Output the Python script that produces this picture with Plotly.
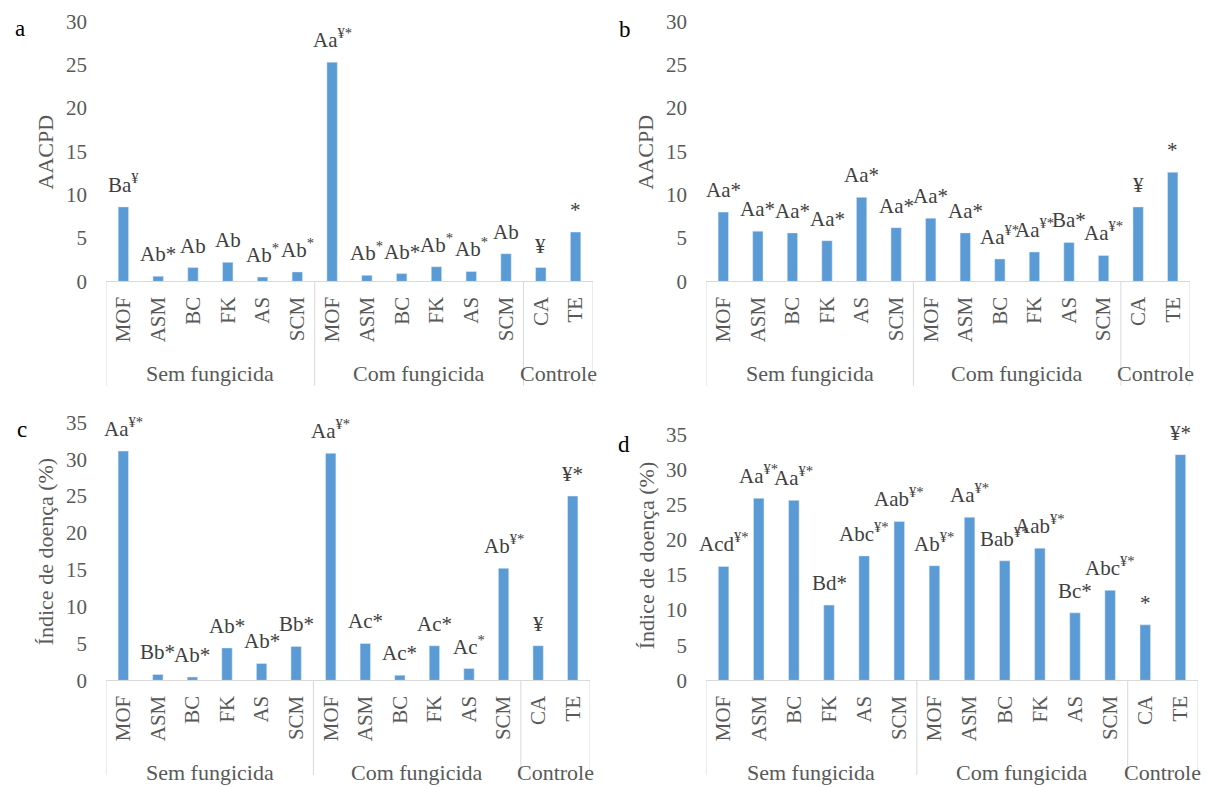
import plotly.graph_objects as go

# ---------------- data ----------------
categories = ["MOF", "ASM", "BC", "FK", "AS", "SCM",
              "MOF", "ASM", "BC", "FK", "AS", "SCM",
              "CA", "TE"]
groups = ["Sem fungicida", "Com fungicida", "Controle"]
group_sizes = [6, 6, 2]

values_a = [8.6, 0.6, 1.6, 2.2, 0.5, 1.1, 25.3, 0.7, 0.9, 1.7, 1.15, 3.2, 1.6, 5.7]
values_b = [8.0, 5.8, 5.6, 4.7, 9.7, 6.2, 7.3, 5.6, 2.6, 3.4, 4.5, 3.0, 8.6, 12.6]
values_c = [31.1, 0.8, 0.45, 4.4, 2.3, 4.6, 30.8, 5.0, 0.7, 4.7, 1.6, 15.2, 4.7, 25.0]
values_d = [16.2, 25.9, 25.6, 10.7, 17.7, 22.6, 16.3, 23.2, 17.0, 18.8, 9.6, 12.8, 7.9, 32.1]

labels_a = ["Ba<sup>¥</sup>", "Ab*", "Ab", "Ab", "Ab<sup>*</sup>", "Ab<sup>*</sup>",
            "Aa<sup>¥*</sup>", "Ab<sup>*</sup>", "Ab*", "Ab<sup>*</sup>", "Ab<sup>*</sup>", "Ab",
            "¥", "*"]
labels_b = ["Aa*", "Aa*", "Aa*", "Aa*", "Aa*", "Aa*",
            "Aa*", "Aa*", "Aa<sup>¥*</sup>", "Aa<sup>¥*</sup>", "Ba*", "Aa<sup>¥*</sup>",
            "¥", "*"]
labels_c = ["Aa<sup>¥*</sup>", "Bb*", "Ab*", "Ab*", "Ab*", "Bb*",
            "Aa<sup>¥*</sup>", "Ac*", "Ac*", "Ac*", "Ac<sup>*</sup>", "Ab<sup>¥*</sup>",
            "¥", "¥*"]
labels_d = ["Acd<sup>¥*</sup>", "Aa<sup>¥*</sup>", "Aa<sup>¥*</sup>", "Bd*", "Abc<sup>¥*</sup>", "Aab<sup>¥*</sup>",
            "Ab<sup>¥*</sup>", "Aa<sup>¥*</sup>", "Bab<sup>¥*</sup>", "Aab<sup>¥*</sup>", "Bc*", "Abc<sup>¥*</sup>",
            "*", "¥*"]

y_title_ab = "AACPD"
y_title_cd = "Índice de doença (%)"
panel_letters = ["a", "b", "c", "d"]
y_max = [30, 30, 35, 35]

# ---------------- layout geometry (pixels) ----------------
W, H = 1211, 787
FONT = "Liberation Serif, Tinos, Times New Roman, DejaVu Serif, serif"
BAR = "#5B9BD5"
TXT = "#595959"
LBL = "#404040"
LINE = "#D9D9D9"

# the photographed page comes out slightly squeezed vertically; compensate
V_OFF, V_SCALE = 10.5, 0.977


def vy(px):
    """target pixel row -> layout pixel row"""
    return (px - V_OFF) / V_SCALE


# (left, right, bottom(y=0), top(y=max)) in target px
panels = [
    (106, 593, 282, 20),
    (706, 1190, 282, 20),
    (106, 590, 684, 424),
    (706, 1198, 684, 436),
]
title_pos = [(45, 152), (645, 152), (45, 554), (646, 558)]
letter_pos = [(20, 27), (625, 28), (22, 431), (624, 446)]

values = [values_a, values_b, values_c, values_d]
labels = [labels_a, labels_b, labels_c, labels_d]
ytitles = [y_title_ab, y_title_ab, y_title_cd, y_title_cd]

fig = go.Figure()
layout = dict(width=W, height=H, margin=dict(l=0, r=0, t=0, b=0),
              paper_bgcolor="white", plot_bgcolor="white", showlegend=False,
              font=dict(family=FONT, color=TXT))
annotations = []
shapes = []

xs = list(range(len(categories)))
bounds = [-0.5]
for s in group_sizes:
    bounds.append(bounds[-1] + s)
centers = [(bounds[i] + bounds[i + 1]) / 2 for i in range(len(group_sizes))]

for i, (l, r, b, t) in enumerate(panels):
    n = "" if i == 0 else str(i + 1)
    xa, ya = "x" + n, "y" + n
    fig.add_trace(go.Bar(x=xs, y=values[i], marker_color=BAR, width=0.3,
                         xaxis=xa, yaxis=ya, hoverinfo="skip"))
    bb, tt = vy(b), vy(t)
    ph = bb - tt
    layout["xaxis" + n] = dict(
        domain=[l / W, r / W], anchor=ya, range=[-0.5, len(categories) - 0.5],
        tickmode="array", tickvals=xs, ticktext=categories, tickangle=-90,
        showline=True, linecolor=LINE, linewidth=1, showgrid=False, zeroline=False,
        ticks="", ticklabelstandoff=6, tickfont=dict(family=FONT, size=21, color=TXT),
        fixedrange=True)
    layout["yaxis" + n] = dict(
        domain=[1 - bb / H, 1 - tt / H], anchor=xa, range=[0, y_max[i]], dtick=5,
        showline=False, showgrid=False, zeroline=False, ticks="",
        ticklabelstandoff=18, tickfont=dict(family=FONT, size=21, color=TXT),
        fixedrange=True)
    # data labels
    for xv, yv, txt in zip(xs, values[i], labels[i]):
        annotations.append(dict(x=xv, y=yv, xref=xa, yref=ya, text=txt,
                                showarrow=False, yanchor="bottom", yshift=8,
                                font=dict(family=FONT, size=21, color=LBL)))
    # category box lines
    depth = (H - bb) if i >= 2 else 105 / V_SCALE
    for bx in bounds:
        shapes.append(dict(type="line", xref=xa, yref=ya + " domain",
                           x0=bx, x1=bx, y0=0, y1=-depth / ph,
                           line=dict(color=LINE, width=1)))
    for gx, g in zip(centers, groups):
        annotations.append(dict(x=gx, y=-(93 / V_SCALE) / ph, xref=xa, yref=ya + " domain",
                                text=g, showarrow=False, yanchor="middle",
                                font=dict(family=FONT, size=22, color=TXT)))
    # axis title
    tx, ty = title_pos[i]
    annotations.append(dict(x=tx / W, y=1 - vy(ty) / H, xref="paper", yref="paper",
                            text=ytitles[i], textangle=-90, showarrow=False,
                            xanchor="center", yanchor="middle",
                            font=dict(family=FONT, size=22, color=TXT)))
    lx, ly = letter_pos[i]
    annotations.append(dict(x=lx / W, y=1 - vy(ly) / H, xref="paper", yref="paper",
                            text=panel_letters[i], showarrow=False,
                            xanchor="center", yanchor="middle",
                            font=dict(family=FONT, size=23, color="black")))

layout["annotations"] = annotations
layout["shapes"] = shapes
fig.update_layout(**layout)
fig.write_html(
    "out.html",
    config={"displayModeBar": False},
    post_script=("document.documentElement.style.margin='0';"
                 "document.body.style.margin='0';document.body.style.overflow='hidden';"
                 "var gd=document.getElementById('{plot_id}');"
                 "gd.style.position='absolute';gd.style.top='0px';gd.style.left='0px';"),
)
